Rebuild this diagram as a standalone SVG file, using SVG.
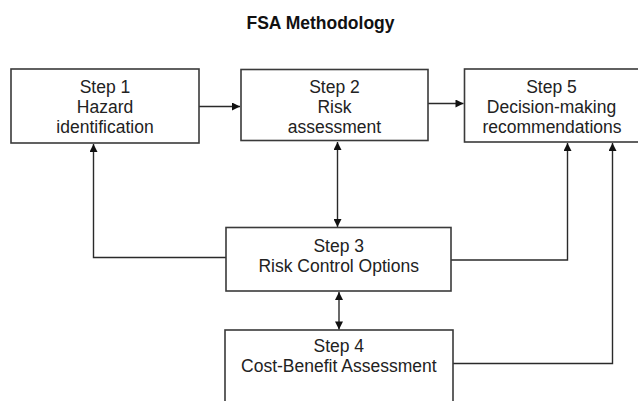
<svg xmlns="http://www.w3.org/2000/svg" width="638" height="401" viewBox="0 0 638 401">
<style>
.box{fill:#fff;stroke:#3a3a3a;stroke-width:1.6}
.t{font-family:"Liberation Sans",Arial,sans-serif;font-size:17.5px;fill:#222;text-anchor:middle}
.title{font-family:"Liberation Sans",Arial,sans-serif;font-size:17.5px;font-weight:bold;fill:#111;text-anchor:middle}
.c{fill:none;stroke:#2a2a2a;stroke-width:1.4}
</style>
<defs>
<marker id="ah" viewBox="0 0 10 10" refX="10" refY="5" markerWidth="9" markerHeight="8" markerUnits="userSpaceOnUse" orient="auto-start-reverse">
<path d="M0,0 L10,5 L0,10 Z" fill="#111"/>
</marker>
</defs>
<rect width="638" height="401" fill="#fff"/>
<text class="title" x="320.5" y="29">FSA Methodology</text>
<g id="connectors">
<line class="c" x1="199" y1="106.5" x2="240" y2="106.5" marker-end="url(#ah)"/>
<line class="c" x1="428" y1="103.5" x2="463.5" y2="103.5" marker-end="url(#ah)"/>
<polyline class="c" points="226,257.5 93.5,257.5 93.5,144" marker-end="url(#ah)"/>
<line class="c" x1="337.5" y1="142" x2="337.5" y2="227" marker-start="url(#ah)" marker-end="url(#ah)"/>
<polyline class="c" points="451,260 567.5,260 567.5,143" marker-end="url(#ah)"/>
<line class="c" x1="339" y1="292" x2="339" y2="329.5" marker-start="url(#ah)" marker-end="url(#ah)"/>
<polyline class="c" points="453,363.5 612.5,363.5 612.5,143" marker-end="url(#ah)"/>
</g>
<g id="step1">
<rect class="box" x="11" y="69" width="188" height="74"/>
<text class="t" x="105" y="93">Step 1</text>
<text class="t" x="105" y="113">Hazard</text>
<text class="t" x="105" y="133">identification</text>
</g>
<g id="step2">
<rect class="box" x="241" y="69.5" width="187" height="71"/>
<text class="t" x="334.5" y="92.7">Step 2</text>
<text class="t" x="334.5" y="112.7">Risk</text>
<text class="t" x="334.5" y="132.5">assessment</text>
</g>
<g id="step5">
<rect class="box" x="464.5" y="69" width="190" height="73"/>
<text class="t" x="551.5" y="92.5">Step 5</text>
<text class="t" x="551.5" y="113">Decision-making</text>
<text class="t" x="552" y="133.3">recommendations</text>
</g>
<g id="step3">
<rect class="box" x="226" y="227.5" width="225" height="63.5"/>
<text class="t" x="338.7" y="251.7">Step 3</text>
<text class="t" x="338.7" y="271.7">Risk Control Options</text>
</g>
<g id="step4">
<rect class="box" x="225" y="330" width="228" height="90"/>
<text class="t" x="338.8" y="352.3">Step 4</text>
<text class="t" x="338.8" y="371.7">Cost-Benefit Assessment</text>
</g>
</svg>
